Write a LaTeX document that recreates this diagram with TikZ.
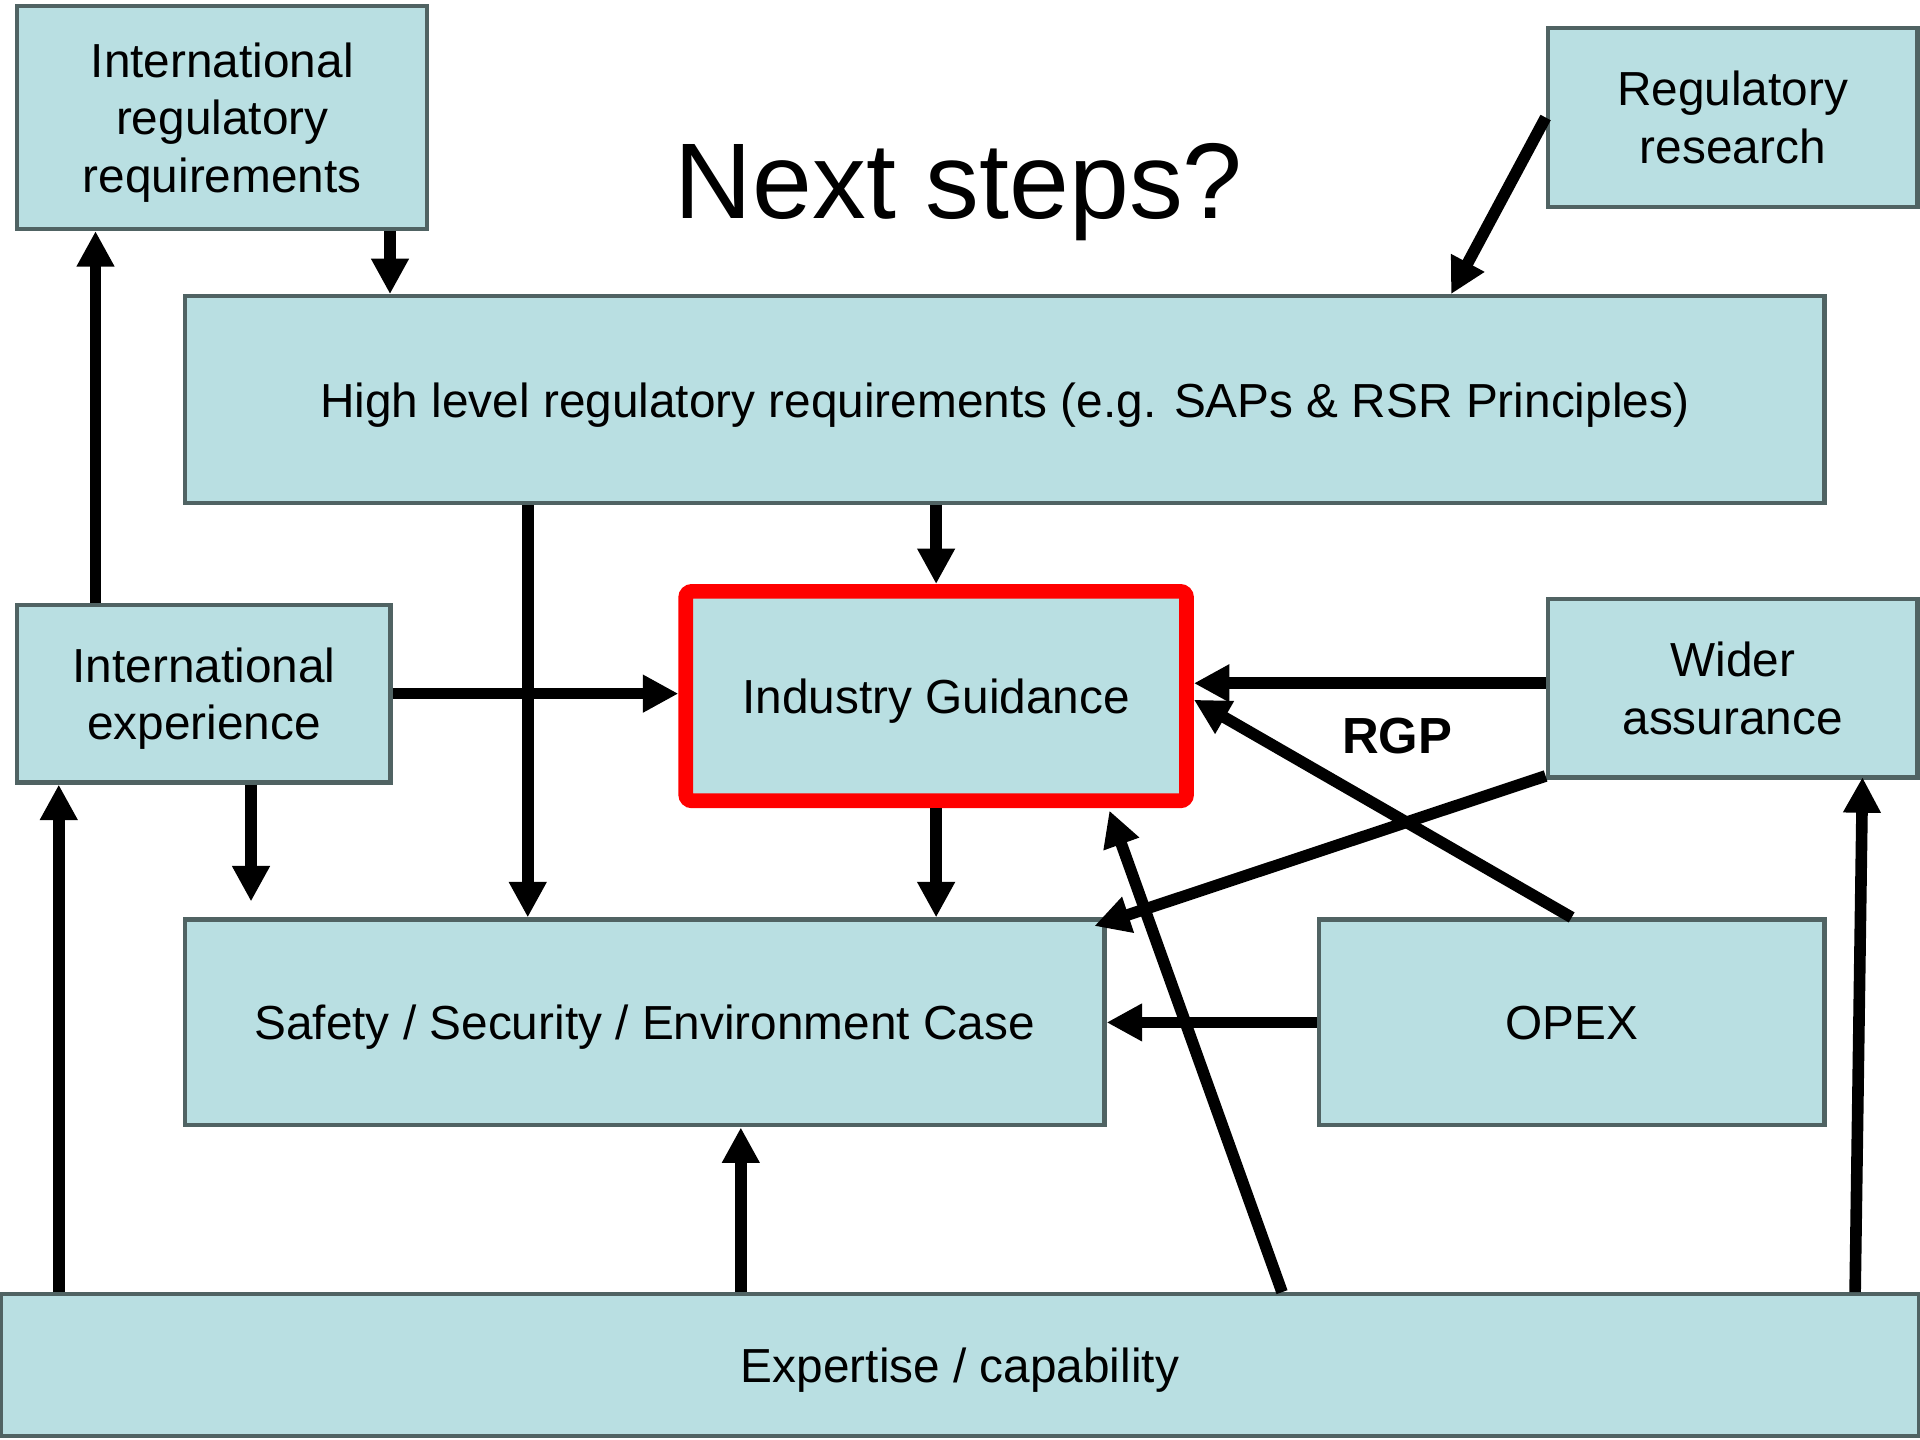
\documentclass[tikz,border=0pt]{standalone}
\usepackage{fontspec}
\setmainfont{Liberation Sans}
\usetikzlibrary{arrows.meta}

\definecolor{boxfill}{RGB}{185,223,226}
\definecolor{boxline}{RGB}{80,99,99}

\tikzset{
  block/.style={draw=boxline, line width=0.035cm, fill=boxfill, align=center,
    font=\fontsize{11.1}{13.4}\selectfont, inner sep=0pt, text depth=0pt},
  guide/.style={block, draw=red, line width=0.12cm, rounded corners=0.05cm},
  flow/.style={line width=0.095cm, -{Triangle[width=0.29cm,length=0.29cm]}}
}

\begin{document}
\begin{tikzpicture}
    \useasboundingbox (0,0) rectangle (15.68,11.76);

    % Title
    \node[text depth=0pt] (title) at (7.83,10.28) {\fontsize{25}{30}\selectfont Next steps?};

    % Draw the boxes
    \node[block, minimum width=3.35cm, minimum height=1.82cm] (intreg) at (1.815,10.80)
        {International\\regulatory\\requirements};
    \node[block, minimum width=3.02cm, minimum height=1.46cm] (regres) at (14.15,10.80)
        {Regulatory\\research};
    \node[block, minimum width=13.39cm, minimum height=1.69cm] (hl) at (8.205,8.495)
        {High level regulatory requirements (e.g. SAPs \& RSR Principles)};
    \node[block, minimum width=3.05cm, minimum height=1.45cm] (intexp) at (1.665,6.095)
        {International\\experience};
    \node[guide, minimum width=4.09cm, minimum height=1.71cm] (ig) at (7.645,6.075)
        {Industry Guidance};
    \node[block, minimum width=3.02cm, minimum height=1.46cm] (wider) at (14.15,6.14)
        {Wider\\assurance};
    \node[block, minimum width=7.51cm, minimum height=1.68cm] (safety) at (5.265,3.41)
        {Safety / Security / Environment Case};
    \node[block, minimum width=4.13cm, minimum height=1.68cm] (opex) at (12.835,3.41)
        {OPEX};
    \node[block, minimum width=15.66cm, minimum height=1.16cm] (expert) at (7.84,0.61)
        {Expertise / capability};

    \node[font=\fontsize{11.8}{14}\selectfont\bfseries] (rgp) at (11.41,5.75) {RGP};

    % Arrows from the top row
    \draw[flow] ([xshift=1.37cm]intreg.south) -- ([xshift=1.37cm]intreg.south |- hl.north);
    \draw[flow] (regres.west) -- ([xshift=3.645cm]hl.north);
    \draw[flow] (hl.south -| ig.north) -- (ig.north);
    \draw[flow] ([xshift=-3.895cm]hl.south) -- ([xshift=-3.895cm]hl.south |- safety.north);

    % Arrows round the guidance box
    \draw[flow] ([xshift=-0.885cm]intexp.north) -- ([xshift=-0.885cm]intexp.north |- intreg.south);
    \draw[flow] (intexp.east) -- (intexp.east -| ig.west);
    \draw[flow] ([xshift=0.385cm]intexp.south) -- ([xshift=0.385cm,yshift=0.13cm]intexp.south |- safety.north);
    \draw[flow] (ig.south) -- (ig.south |- safety.north);
    \draw[flow] ([yshift=0.04cm]wider.west) -- ([yshift=0.04cm]wider.west -| ig.east);
    \draw[flow] (opex.north) -- ([yshift=-0.03cm]ig.east);
    \draw[flow] ([yshift=0.03cm]wider.south west) -- ([xshift=-0.1cm,yshift=-0.07cm]safety.north east);
    \draw[flow] (opex.west) -- (safety.east);

    % Arrows from expertise
    \draw[flow] ([xshift=2.63cm]expert.north) -- ([xshift=-0.69cm,yshift=-0.02cm]ig.south east);
    \draw[flow] ([xshift=-1.79cm]expert.north) -- ([xshift=-1.79cm]expert.north |- safety.south);
    \draw[flow] ([xshift=-7.36cm]expert.north) -- ([xshift=-7.36cm]expert.north |- intexp.south);
    \draw[flow] ([xshift=7.31cm]expert.north) -- ([xshift=1.06cm,yshift=0.02cm]wider.south);
\end{tikzpicture}
\end{document}
